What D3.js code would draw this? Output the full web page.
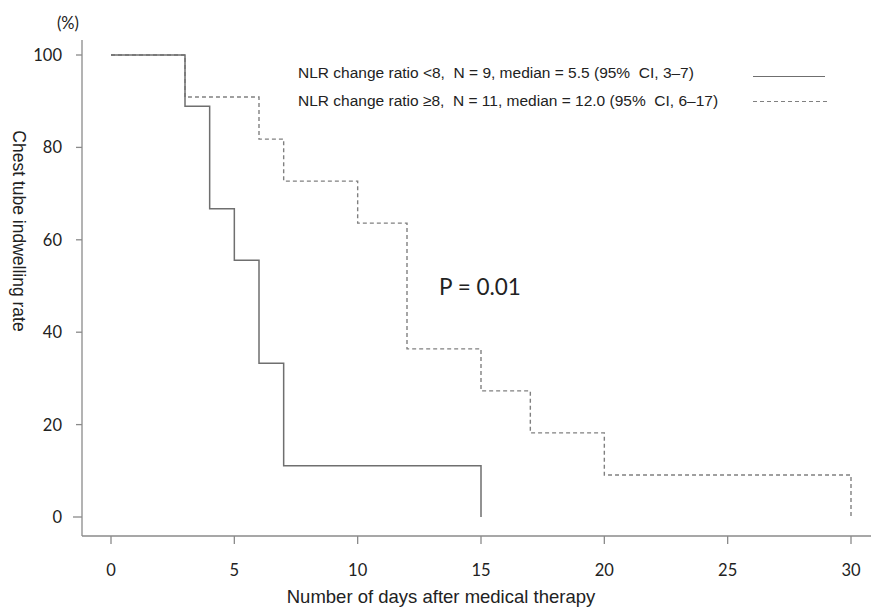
<!DOCTYPE html>
<html><head><meta charset="utf-8">
<script src="https://cdn.jsdelivr.net/npm/d3@7"></script>
<style>body{margin:0;background:#fff} text{white-space:pre}</style>
</head><body>
<svg id="chart" width="871" height="607"></svg>
<script>
const xTicks = [0, 5, 10, 15, 20, 25, 30];
const yTicks = [0, 20, 40, 60, 80, 100];
const lowDays = [0, 3, 4, 5, 6, 7, 15];
const lowRate = [100, 88.9, 66.7, 55.6, 33.3, 11.1, 0];
const highDays = [0, 3, 6, 7, 10, 12, 15, 17, 20, 30];
const highRate = [100, 90.9, 81.8, 72.7, 63.6, 36.4, 27.3, 18.2, 9.1, 0];
const legendLabels = [
  "NLR change ratio <8,  N = 9, median = 5.5 (95%  CI, 3\u20137)",
  "NLR change ratio \u22658,  N = 11, median = 12.0 (95%  CI, 6\u201317)"
];
const pText = "P = 0.01";

const svg = d3.select("#chart");
const x = d3.scaleLinear().domain([0, 30]).range([111, 851]);
const y = d3.scaleLinear().domain([0, 100]).range([517, 55]);
const axisColor = "#8a8a8a", lineColor = "#6f6f6f", textColor = "#222";
const tickFont = "Lato, 'Open Sans', sans-serif";
const arial = "'Liberation Sans', Arial, sans-serif";

// axis lines
svg.append("line").attr("x1", 82).attr("x2", 82).attr("y1", 40).attr("y2", 536)
  .attr("stroke", axisColor).attr("stroke-width", 1.3);
svg.append("line").attr("x1", 82).attr("x2", 871).attr("y1", 536).attr("y2", 536)
  .attr("stroke", axisColor).attr("stroke-width", 1.3);

// y ticks
const yg = svg.append("g");
yTicks.forEach(t => {
  yg.append("line").attr("x1", t === 0 ? 73 : 76).attr("x2", 82)
    .attr("y1", y(t)).attr("y2", y(t)).attr("stroke", axisColor).attr("stroke-width", 1.3);
  yg.append("text").attr("x", 62).attr("y", y(t)).attr("dy", "0.36em")
    .attr("text-anchor", "end").attr("font-family", tickFont).attr("font-size", 16.5)
    .attr("fill", textColor).text(t);
});
// x ticks
const xg = svg.append("g");
xTicks.forEach(t => {
  xg.append("line").attr("x1", x(t)).attr("x2", x(t)).attr("y1", 536).attr("y2", 544)
    .attr("stroke", axisColor).attr("stroke-width", 1.3);
  xg.append("text").attr("x", x(t)).attr("y", 576).attr("text-anchor", "middle")
    .attr("font-family", tickFont).attr("font-size", 16.5).attr("fill", textColor).text(t);
});

// axis titles
svg.append("text").attr("x", 441).attr("y", 603).attr("text-anchor", "middle")
  .attr("font-family", arial).attr("font-size", 18.5).attr("fill", textColor)
  .text("Number of days after medical therapy");
svg.append("text").attr("transform", "translate(12.5,231) rotate(90)")
  .attr("text-anchor", "middle").attr("font-family", arial).attr("font-size", 17.5)
  .attr("fill", textColor).text("Chest tube indwelling rate");
svg.append("text").attr("x", 68).attr("y", 29).attr("text-anchor", "middle")
  .attr("font-family", tickFont).attr("font-size", 16.5).attr("fill", textColor).text("(%)");

// curves
const line = d3.line().x(d => x(d[0])).y(d => y(d[1])).curve(d3.curveStepAfter);
const highData = highDays.map((d, i) => [d, highRate[i]]);
const lowData = lowDays.map((d, i) => [d, lowRate[i]]);
svg.append("path").attr("d", line(highData)).attr("fill", "none")
  .attr("stroke", "#808080").attr("stroke-width", 1.4).attr("stroke-dasharray", "4,3");
svg.append("path").attr("d", line(lowData)).attr("fill", "none")
  .attr("stroke", lineColor).attr("stroke-width", 1.5);

// legend
svg.append("text").attr("x", 298).attr("y", 78).attr("font-family", arial)
  .attr("font-size", 15.5).attr("fill", textColor).text(legendLabels[0]);
svg.append("text").attr("x", 298).attr("y", 106).attr("font-family", arial)
  .attr("font-size", 15.5).attr("fill", textColor).text(legendLabels[1]);
svg.append("line").attr("x1", 753).attr("x2", 825).attr("y1", 76.5).attr("y2", 76.5)
  .attr("stroke", lineColor).attr("stroke-width", 1.2);
svg.append("line").attr("x1", 753).attr("x2", 828).attr("y1", 101.5).attr("y2", 101.5)
  .attr("stroke", "#808080").attr("stroke-width", 1.2).attr("stroke-dasharray", "4,3");

// p value
svg.append("text").attr("x", 439).attr("y", 295).attr("font-family", tickFont)
  .attr("font-size", 22.5).attr("fill", textColor).text(pText);
</script>
</body></html>
